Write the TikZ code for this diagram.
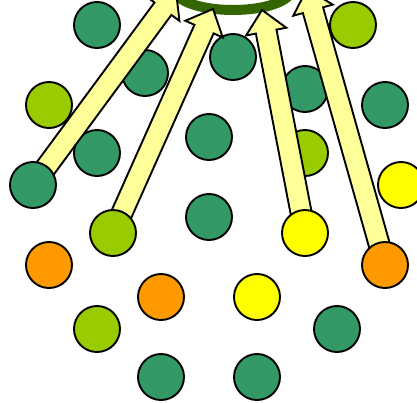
\documentclass[tikz,border=0pt]{standalone}
\usetikzlibrary{calc}
\pgfdeclarelayer{bg}
\pgfdeclarelayer{mid}
\pgfsetlayers{bg,mid,main}
\definecolor{cgreen}{HTML}{339966}
\definecolor{clime}{HTML}{99CC00}
\definecolor{corange}{HTML}{FF9900}
\definecolor{cyellow}{HTML}{FFFF00}
\definecolor{carrow}{HTML}{FFFF99}
\definecolor{carc}{HTML}{336600}
\tikzset{
  dot/.style={circle, draw=black, line width=1.9pt, minimum size=46pt, inner sep=0pt},
  gdot/.style={dot, fill=cgreen},
  ldot/.style={dot, fill=clime},
  odot/.style={dot, fill=corange},
  ydot/.style={dot, fill=cyellow},
  fatarrow/.style={draw=black, fill=carrow, line width=1.9pt, line join=miter},
  ring/.style={draw=carc, line width=10pt}
}
\newcommand{\fatarr}[2]{%
  \coordinate (nk) at ($(#2)!22pt!(#1.center)$);
  \path[fatarrow] ($(#1.center)!10.5pt!90:(#2)$) -- ($(nk)!10.5pt!90:(#2)$) -- ($(nk)!20.5pt!90:(#2)$) -- (#2)
    -- ($(nk)!20.5pt!-90:(#2)$) -- ($(nk)!10.5pt!-90:(#2)$) -- ($(#1.center)!10.5pt!-90:(#2)$) -- cycle;}
\begin{document}
\begin{tikzpicture}[x=1pt,y=-1pt]
\clip (0,0) rectangle (417,402);
\begin{pgfonlayer}{bg}
\fill[white] (0,0) rectangle (417,402);
\node[gdot] (g1) at (97,25) {};
\node[gdot] (g2) at (145,73) {};
\node[gdot] (g3) at (97,153) {};
\node[gdot] (g5) at (233,57) {};
\node[gdot] (g6) at (305,89) {};
\node[gdot] (g7) at (385,105) {};
\node[gdot] (g8) at (209,137) {};
\node[gdot] (g9) at (209,217) {};
\node[gdot] (g10) at (161,377) {};
\node[gdot] (g11) at (337,329) {};
\node[gdot] (g12) at (257,377) {};
\node[ldot] (l1) at (49,105) {};
\node[ldot] (l2) at (353,25) {};
\node[ldot] (l3) at (305,153) {};
\node[ldot] (l5) at (97,329) {};
\node[odot] (o1) at (49,265) {};
\node[odot] (o2) at (161,297) {};
\node[ydot] (y1) at (401,185) {};
\node[ydot] (y3) at (257,297) {};
\draw[ring] (233,-10) ellipse [x radius=58pt, y radius=20pt];
\end{pgfonlayer}
% tail circles on top
\node[gdot] (t1) at (33,185) {};
\node[ldot] (t2) at (113,233) {};
\node[ydot] (t3) at (305,233) {};
\node[odot] (t4) at (385,265) {};
\coordinate (h1) at (176,-9);
\coordinate (h2) at (213,9);
\coordinate (h3) at (262,10);
\coordinate (h4) at (307,-11);
\begin{pgfonlayer}{mid}
\fatarr{t1}{h1}
\fatarr{t2}{h2}
\fatarr{t3}{h3}
\fatarr{t4}{h4}
\end{pgfonlayer}
\end{tikzpicture}
\end{document}
